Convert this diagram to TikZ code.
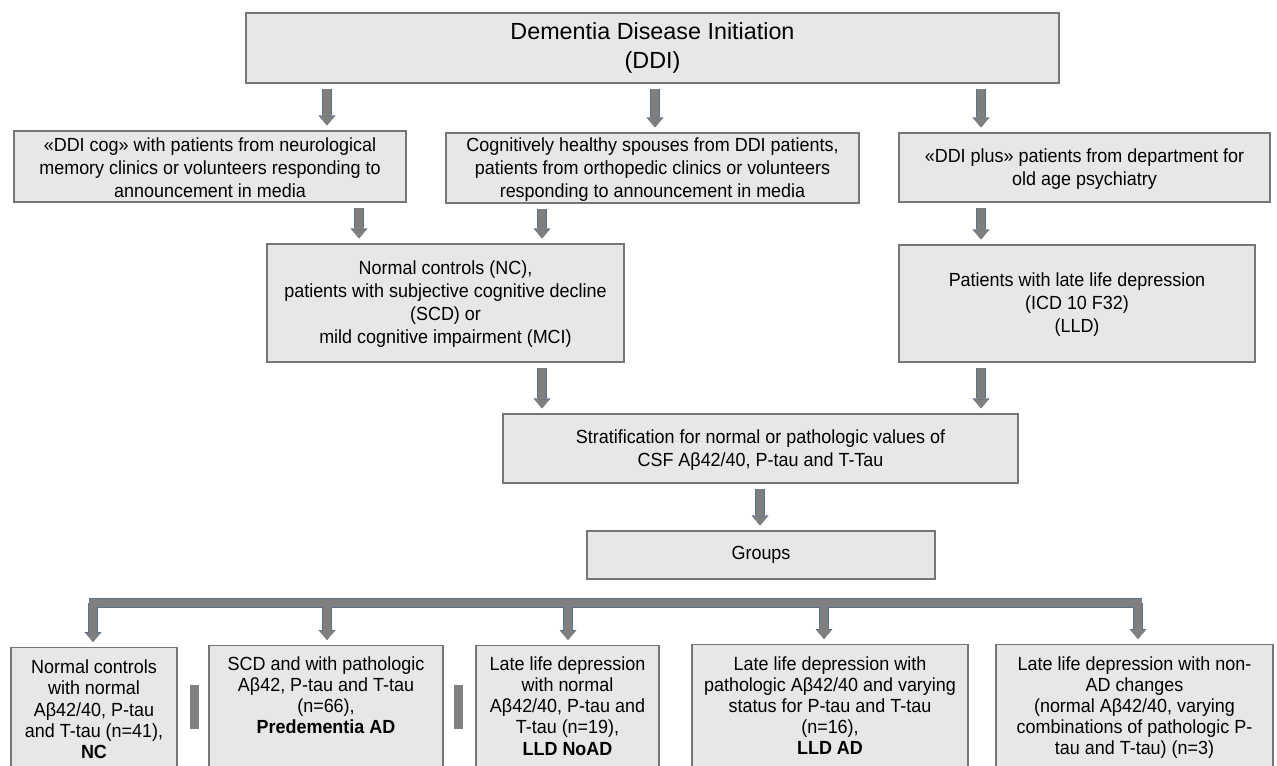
\documentclass[tikz,border=0pt]{standalone}
\usepackage{fontspec}
\setmainfont{Liberation Sans}
\newfontfamily\narrowf{Liberation Sans}[FakeStretch=0.945]
\usetikzlibrary{arrows.meta}
\definecolor{boxfill}{HTML}{E7E7E7}
\definecolor{boxline}{HTML}{767676}
\definecolor{arrgray}{HTML}{7F7F7F}
\definecolor{arrblue}{HTML}{5B6F8E}
\tikzset{
  box/.style={draw=boxline, fill=boxfill, line width=0.9pt, inner sep=0pt, align=center,
    font=\narrowf\fontsize{14.25}{17.25}\selectfont},
  txt/.style={inner sep=0pt, align=center, font=\narrowf\fontsize{14.25}{15.9}\selectfont},
  conn/.style={line width=6pt, draw=arrgray, shorten <=3.75pt, shorten >=3.75pt,
    -{Triangle[width=11.25pt,length=6.75pt,line width=0pt]},
    preaction={draw=arrblue, line width=7pt,
      -{Triangle[width=12.75pt,length=7.5pt,line width=0pt]}}},
  barline/.style={line width=6pt, draw=arrgray,
    preaction={draw=arrblue, line width=7pt}},
  sidebar/.style={fill=arrgray},
  lower/.style={text depth=0pt},
}
\begin{document}
\begin{tikzpicture}[x=0.75pt,y=-0.75pt]
\useasboundingbox (0,0) rectangle (1277,766);
\clip (0,0) rectangle (1277,766);

% boxes
\node[box, minimum width=813*0.75pt, minimum height=70*0.75pt,
  font=\fontsize{17.5}{21.75}\selectfont] (ddi) at (652.5,48)
  {Dementia Disease Initiation\\(DDI)};
\node[box, minimum width=392*0.75pt, minimum height=71*0.75pt] (cog) at (210,166.5)
  {\strut«DDI cog» with patients from neurological\\memory clinics or volunteers responding to\\announcement in media};
\node[box, minimum width=413*0.75pt, minimum height=70*0.75pt] (spouse) at (652.5,168)
  {\strut Cognitively healthy spouses from DDI patients,\\patients from orthopedic clinics or volunteers\\responding to announcement in media};
\node[box, minimum width=371*0.75pt, minimum height=69*0.75pt] (plus) at (1084.5,167.5)
  {\strut«DDI plus» patients from department for\\old age psychiatry};
\node[box, minimum width=357*0.75pt, minimum height=118*0.75pt] (nc) at (445.5,303)
  {\strut Normal controls (NC),\\patients with subjective cognitive decline\\(SCD) or\\mild cognitive impairment (MCI)};
\node[box, minimum width=356*0.75pt, minimum height=117*0.75pt] (lld) at (1077,303.5)
  {\strut Patients with late life depression\\(ICD 10 F32)\\(LLD)};
\node[box, minimum width=515*0.75pt, minimum height=69*0.75pt] (strat) at (760.5,448.5)
  {\strut Stratification for normal or pathologic values of\\CSF Aβ42/40, P-tau and T-Tau};
\node[box, minimum width=348*0.75pt, minimum height=48*0.75pt] (groups) at (761,555)
  {Groups};

% bottom boxes
\node[box, anchor=north, minimum width=166*0.75pt, minimum height=160*0.75pt] (b1) at (94,647) {};
\node[box, anchor=north, minimum width=234*0.75pt, minimum height=160*0.75pt] (b2) at (326,645) {};
\node[box, anchor=north, minimum width=183*0.75pt, minimum height=160*0.75pt] (b3) at (567.5,645) {};
\node[box, anchor=north, minimum width=276*0.75pt, minimum height=160*0.75pt] (b4) at (830,644) {};
\node[box, anchor=north, minimum width=277*0.75pt, minimum height=160*0.75pt] (b5) at (1134.5,644) {};

\node[txt, anchor=north] (b1t) at ([yshift=-9.5pt]b1.north)
  {Normal controls\\with normal\\Aβ42/40, P-tau\\and T-tau (n=41),\\\textbf{NC}};
\node[txt, anchor=north] (b2t) at ([yshift=-8.5pt]b2.north)
  {SCD and with pathologic\\Aβ42, P-tau and T-tau\\(n=66),\\\textbf{Predementia AD}};
\node[txt, anchor=north] (b3t) at ([yshift=-8.5pt]b3.north)
  {Late life depression\\with normal\\Aβ42/40, P-tau and\\T-tau (n=19),\\\textbf{LLD NoAD}};
\node[txt, anchor=north] (b4t) at ([yshift=-9pt]b4.north)
  {Late life depression with\\pathologic Aβ42/40 and varying\\status for P-tau and T-tau\\(n=16),\\\textbf{LLD AD}};
\node[txt, anchor=north] (b5t) at ([yshift=-9pt]b5.north)
  {Late life depression with non-\\AD changes\\(normal Aβ42/40, varying\\combinations of pathologic P-\\tau and T-tau) (n=3)};

% arrow x positions
\coordinate (x1) at (327,0);
\coordinate (x2) at (655,0);
\coordinate (x3) at (981,0);
\coordinate (x4) at (359,0);
\coordinate (x5) at (542,0);
\coordinate (x6) at (760,0);

\draw[conn] (ddi.south -| x1) -- (cog.north -| x1);
\draw[conn] (ddi.south -| x2) -- (spouse.north -| x2);
\draw[conn] (ddi.south -| x3) -- (plus.north -| x3);
\draw[conn] (cog.south -| x4) -- (nc.north -| x4);
\draw[conn] (spouse.south -| x5) -- (nc.north -| x5);
\draw[conn] (plus.south -| x3) -- (lld.north -| x3);
\draw[conn] (nc.south -| x5) -- (strat.north -| x5);
\draw[conn] (lld.south -| x3) -- (strat.north -| x3);
\draw[conn] (strat.south -| x6) -- (groups.north -| x6);

% distribution bar
\coordinate (barL) at (89,603);
\coordinate (barR) at (1142,603);
\coordinate (a1) at (93,603);
\coordinate (a2) at (327,603);
\coordinate (a3) at (568,603);
\coordinate (a4) at (824,603);
\coordinate (a5) at (1138,603);
\draw[barline] (barL) -- (barR);
\draw[conn, shorten <=0pt] (a1) -- (b1.north -| a1);
\draw[conn, shorten <=0pt] (a2) -- (b2.north -| a2);
\draw[conn, shorten <=0pt] (a3) -- (b3.north -| a3);
\draw[conn, shorten <=0pt] (a4) -- (b4.north -| a4);
\draw[conn, shorten <=0pt] (a5) -- (b5.north -| a5);
\draw[line width=6pt, draw=arrgray] (barL) -- (barR);

% side bars
\fill[sidebar] (190,685) rectangle (199,729);
\fill[sidebar] (454,685) rectangle (463,729);
\end{tikzpicture}
\end{document}
